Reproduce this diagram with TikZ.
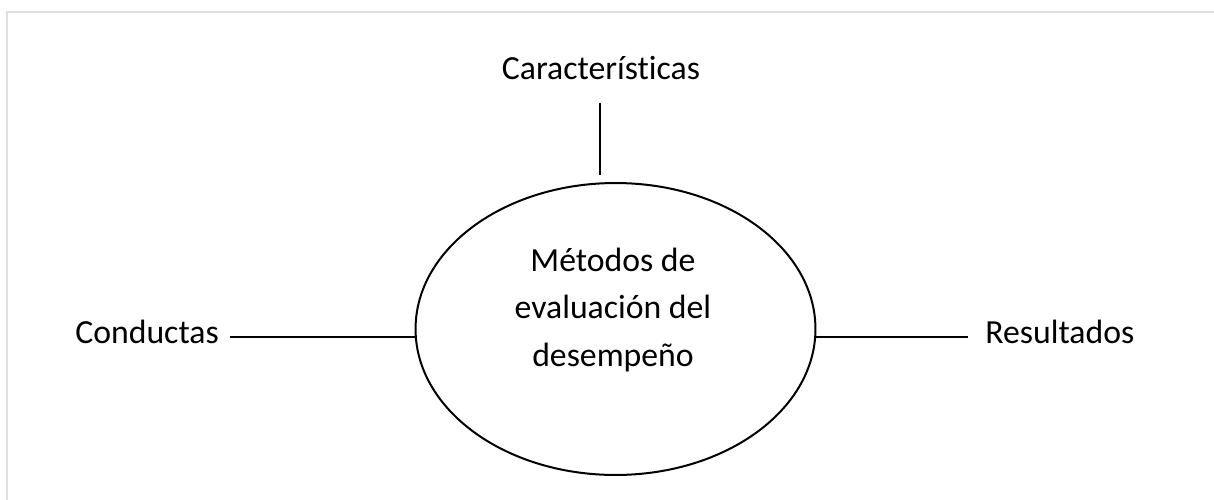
\documentclass[tikz,border=0pt]{standalone}
\usepackage{fontspec}
\setmainfont{Carlito}[Ligatures={NoCommon}]
\usetikzlibrary{shapes.geometric,calc}

\begin{document}
\begin{tikzpicture}[x=0.02cm, y=-0.02cm,
        linea/.style={line width=0.04cm, black},
        etiqueta/.style={font=\fontsize{19.2}{27.2}\selectfont, inner sep=0pt}]
        \useasboundingbox (0,0) rectangle (1214,500);

        % Marco gris
        \draw[line width=0.04cm, gray!25] (7,500) -- (7,12) -- (1214,12);

        % Elipse central
        \node[draw, ellipse, line width=0.04cm, minimum width=8cm, minimum height=5.84cm] (metodos) at (615.5,329) {};
        \node[etiqueta, align=center] (txt) at (613,310) {Métodos de\\evaluación del\\desempeño};

        % Etiquetas
        \node[etiqueta, anchor=base] (caracteristicas) at (601,80) {Características};
        \node[etiqueta, anchor=base west] (conductas) at (75,343) {Conductas};
        \node[etiqueta, anchor=base west] (resultados) at (985,343) {Resultados};

        % Conectores
        \draw[linea] ($(caracteristicas.base)+(-1,23)$) -- ($(caracteristicas.base |- metodos.north)+(-1,-7)$);
        \coordinate (c1) at ($(conductas.base east)+(11,-6)$);
        \draw[linea] (c1) -- (c1 -| metodos.west);
        \coordinate (r1) at ($(resultados.base west)+(-17,-6)$);
        \draw[linea] (r1) -- (r1 -| metodos.east);
    \end{tikzpicture}
\end{document}
